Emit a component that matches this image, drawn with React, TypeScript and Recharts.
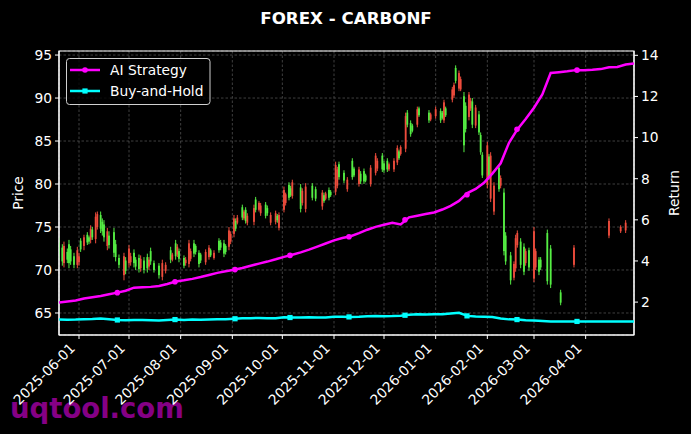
import { ComposedChart, Bar, Scatter, XAxis, YAxis, CartesianGrid, ReferenceArea } from 'recharts';

// x values are calendar days counted from 2025-05-20
const tickDays = [12, 42, 73, 104, 134, 165, 195, 226, 257, 285, 316];
const tickLabels = [
  '2025-06-01', '2025-07-01', '2025-08-01', '2025-09-01', '2025-10-01', '2025-11-01',
  '2025-12-01', '2026-01-01', '2026-02-01', '2026-03-01', '2026-04-01',
];
const priceTicks = [65, 70, 75, 80, 85, 90, 95];
const returnTicks = [2, 4, 6, 8, 10, 12, 14];

// [day, open, high, low, close]
const candles = [
  [0, 71.8, 73.8, 71.2, 73.2], [2, 71.0, 73.0, 70.5, 72.6], [3, 72.8, 73.3, 70.3, 70.8], [5, 71.2, 72.5, 70.8, 72.1],
  [6, 70.8, 73.5, 70.2, 73.0], [7, 71.0, 72.8, 70.6, 72.4], [9, 70.6, 72.0, 70.2, 71.6], [11, 72.3, 72.7, 70.2, 70.6],
  [12, 71.6, 72.0, 70.5, 70.9], [13, 72.4, 73.7, 72.1, 73.4], [15, 73.8, 74.1, 72.3, 72.8], [17, 73.2, 74.4, 72.9, 74.1],
  [18, 73.3, 74.0, 73.0, 73.8], [19, 74.8, 75.2, 73.1, 73.5], [20, 73.8, 75.0, 73.5, 74.7], [22, 76.2, 76.7, 73.1, 73.6],
  [23, 76.5, 76.8, 74.7, 75.0], [25, 74.8, 76.8, 74.3, 76.4], [26, 74.5, 76.0, 74.0, 75.6], [27, 73.8, 75.8, 73.3, 75.3],
  [29, 74.5, 74.9, 72.3, 72.8], [30, 72.9, 74.5, 72.5, 74.0], [33, 72.0, 74.9, 71.5, 74.4], [34, 71.5, 73.5, 71.0, 73.0],
  [36, 70.6, 71.8, 70.2, 71.4], [39, 71.6, 72.0, 68.8, 69.4], [40, 69.9, 71.5, 69.5, 71.1], [42, 72.5, 72.9, 70.3, 70.8],
  [43, 71.6, 72.0, 70.5, 70.9], [45, 70.8, 72.4, 70.3, 72.0], [46, 70.4, 71.5, 70.0, 71.2], [48, 70.1, 71.8, 69.7, 71.4],
  [49, 71.3, 71.7, 69.8, 70.2], [51, 70.0, 71.5, 69.6, 71.1], [53, 70.2, 71.9, 69.7, 71.5], [54, 71.2, 71.5, 70.0, 70.4],
  [55, 71.0, 72.6, 70.6, 72.2], [57, 70.0, 71.1, 69.7, 70.8], [60, 69.4, 70.8, 69.0, 70.5], [62, 70.8, 71.2, 68.8, 69.2],
  [64, 70.6, 70.9, 69.6, 69.9], [67, 71.2, 72.7, 70.8, 72.3], [68, 71.8, 72.0, 71.0, 71.2], [70, 71.6, 73.5, 71.2, 73.1],
  [71, 72.7, 73.0, 71.5, 71.8], [72, 71.3, 72.5, 70.9, 72.2], [75, 70.5, 71.7, 70.2, 71.4], [76, 71.2, 71.5, 70.5, 70.8],
  [78, 73.1, 73.5, 70.3, 70.7], [79, 72.2, 72.5, 71.0, 71.3], [81, 71.9, 73.5, 71.5, 73.1], [82, 72.1, 73.0, 71.8, 72.8],
  [84, 70.7, 72.3, 70.3, 72.0], [85, 71.1, 72.0, 70.8, 71.8], [88, 72.1, 72.4, 70.6, 70.9], [90, 72.6, 72.9, 71.2, 71.5],
  [91, 71.7, 72.5, 71.5, 72.3], [93, 72.0, 72.3, 71.2, 71.4], [96, 72.3, 73.7, 72.0, 73.4], [97, 72.6, 73.5, 72.3, 73.2],
  [99, 71.9, 73.5, 71.5, 73.1], [100, 72.1, 73.0, 71.8, 72.8], [102, 74.6, 75.0, 72.3, 72.7], [103, 74.2, 74.5, 73.0, 73.3],
  [105, 76.0, 76.4, 73.8, 74.2], [106, 74.8, 76.0, 74.5, 75.7], [107, 76.1, 76.4, 75.3, 75.5], [110, 76.1, 77.6, 75.8, 77.3],
  [111, 76.8, 77.0, 75.8, 76.0], [112, 75.7, 77.3, 75.4, 77.0], [113, 76.3, 76.6, 75.2, 75.5], [117, 77.2, 77.6, 75.2, 75.6],
  [118, 77.0, 78.5, 76.7, 78.2], [120, 77.8, 78.0, 76.8, 77.0], [121, 77.5, 77.8, 76.3, 76.6], [124, 76.3, 77.9, 76.0, 77.6],
  [125, 76.6, 77.5, 76.3, 77.2], [127, 76.4, 76.7, 75.2, 75.5], [130, 76.6, 76.9, 75.3, 75.6], [131, 75.8, 76.5, 75.5, 76.3],
  [132, 76.4, 76.7, 74.6, 74.9], [135, 79.3, 79.7, 76.7, 77.0], [136, 78.8, 79.0, 77.5, 77.8], [138, 78.4, 80.2, 78.1, 79.9],
  [139, 78.7, 79.8, 78.5, 79.5], [140, 80.2, 80.5, 78.3, 78.6], [145, 77.1, 80.0, 76.7, 79.6], [146, 79.2, 79.5, 77.5, 77.8],
  [148, 79.7, 80.1, 76.7, 77.1], [152, 78.4, 80.1, 78.1, 79.8], [154, 78.3, 79.7, 78.0, 79.4], [158, 79.0, 79.3, 77.0, 77.4],
  [159, 78.0, 79.0, 77.8, 78.7], [160, 78.9, 79.1, 78.1, 78.3], [162, 78.4, 79.6, 78.1, 79.3], [163, 78.7, 79.3, 78.5, 79.1],
  [166, 82.2, 82.6, 78.7, 79.1], [167, 81.7, 82.0, 79.5, 79.8], [168, 80.8, 82.6, 80.5, 82.3], [171, 80.4, 81.6, 80.1, 81.3],
  [173, 80.5, 80.8, 79.1, 79.4], [176, 80.8, 83.0, 80.5, 82.7], [177, 81.0, 82.0, 80.8, 81.8], [180, 81.7, 82.0, 79.7, 80.0],
  [181, 80.3, 81.5, 80.0, 81.2], [183, 80.3, 81.8, 80.0, 81.5], [184, 80.4, 81.2, 80.2, 81.0], [187, 81.9, 82.2, 79.7, 80.0],
  [190, 83.3, 83.6, 81.0, 81.3], [191, 82.7, 83.0, 81.5, 81.8], [194, 81.7, 83.6, 81.4, 83.3], [195, 81.6, 82.7, 81.3, 82.4],
  [197, 81.7, 83.0, 81.4, 82.7], [198, 82.3, 82.5, 81.5, 81.7], [201, 82.7, 83.0, 81.4, 81.7], [203, 84.2, 84.5, 82.2, 82.5],
  [204, 83.0, 84.0, 82.8, 83.8], [205, 84.3, 84.5, 83.3, 83.5], [208, 87.9, 88.3, 83.7, 84.1], [209, 86.9, 88.6, 86.6, 88.3],
  [211, 85.8, 87.4, 85.5, 87.1], [212, 86.2, 87.0, 86.0, 86.8], [215, 88.7, 89.0, 86.6, 86.9], [216, 88.0, 89.0, 87.8, 88.8],
  [222, 87.4, 88.6, 87.1, 88.3], [223, 88.1, 88.3, 87.3, 87.5], [226, 88.7, 89.0, 87.6, 87.9], [229, 87.4, 88.8, 87.1, 88.5],
  [230, 87.7, 88.5, 87.5, 88.3], [231, 89.5, 89.8, 87.1, 87.4], [232, 88.0, 89.0, 87.8, 88.8], [236, 91.0, 91.3, 89.5, 89.8],
  [237, 91.5, 91.8, 90.0, 90.3], [238, 92.0, 93.8, 91.7, 93.5], [240, 92.9, 93.2, 90.8, 91.1], [241, 92.2, 92.5, 90.8, 91.0],
  [243, 84.5, 90.7, 83.7, 90.2], [244, 86.4, 89.5, 86.0, 89.1], [246, 90.4, 90.7, 87.4, 87.8], [247, 89.7, 90.0, 88.5, 88.8],
  [248, 86.9, 90.0, 86.5, 89.6], [250, 88.9, 89.2, 86.5, 86.8], [252, 86.0, 88.5, 85.7, 88.1], [253, 83.7, 86.0, 83.4, 85.7],
  [254, 81.0, 83.7, 80.7, 83.4], [257, 84.5, 84.9, 79.5, 79.9], [258, 80.8, 83.5, 80.5, 83.2], [259, 83.3, 83.7, 77.9, 78.3],
  [261, 79.8, 80.2, 76.4, 76.8], [264, 79.4, 82.2, 79.1, 81.9], [265, 80.7, 81.0, 79.5, 79.8], [267, 72.2, 79.5, 71.7, 79.0],
  [268, 71.0, 74.4, 70.6, 74.0], [271, 68.8, 72.1, 68.3, 71.7], [273, 70.7, 71.0, 68.8, 69.1], [274, 73.7, 74.1, 69.8, 70.2],
  [275, 74.3, 74.6, 72.6, 72.9], [277, 70.6, 73.7, 70.2, 73.3], [279, 69.8, 73.1, 69.4, 72.7], [280, 72.2, 72.5, 70.5, 70.8],
  [282, 70.3, 72.6, 69.9, 72.3], [285, 74.5, 75.0, 68.6, 69.0], [286, 72.2, 72.5, 70.0, 70.3], [288, 69.8, 71.5, 69.4, 71.2],
  [289, 70.3, 71.5, 70.0, 71.2], [293, 68.7, 74.7, 68.3, 74.3], [295, 68.3, 72.9, 67.9, 72.5], [301, 66.2, 67.7, 65.9, 67.4],
  [309, 72.6, 72.9, 70.3, 70.6], [330, 75.7, 76.0, 73.7, 74.0], [337, 75.0, 75.2, 74.3, 74.5], [340, 75.5, 75.8, 74.3, 74.6],
];

// returns sampled every 5 days
const aiReturn = [
  1.98, 2.03, 2.08, 2.17, 2.24, 2.3, 2.38, 2.46, 2.55, 2.7,
  2.72, 2.74, 2.78, 2.88, 3.0, 3.06, 3.13, 3.22, 3.32, 3.42,
  3.5, 3.57, 3.66, 3.77, 3.87, 3.97, 4.08, 4.2, 4.3, 4.42,
  4.55, 4.7, 4.85, 5.0, 5.12, 5.2, 5.35, 5.52, 5.66, 5.76,
  5.86, 5.78, 6.12, 6.2, 6.28, 6.36, 6.5, 6.68, 6.92, 7.3,
  7.5, 7.8, 8.25, 8.75, 9.75, 10.4, 10.9, 11.45, 12.1, 13.14,
  13.18, 13.22, 13.28, 13.28, 13.3, 13.33, 13.42, 13.43, 13.55, 13.6,
];
const bhReturn = [
  1.15, 1.14, 1.15, 1.17, 1.18, 1.2, 1.17, 1.13, 1.12, 1.13,
  1.13, 1.12, 1.11, 1.13, 1.15, 1.13, 1.15, 1.14, 1.15, 1.16,
  1.16, 1.19, 1.21, 1.22, 1.23, 1.22, 1.21, 1.26, 1.25, 1.25,
  1.26, 1.25, 1.25, 1.29, 1.29, 1.28, 1.29, 1.31, 1.32, 1.31,
  1.32, 1.34, 1.39, 1.41, 1.4, 1.41, 1.41, 1.45, 1.48, 1.33,
  1.3, 1.29, 1.27, 1.2, 1.16, 1.15, 1.12, 1.1, 1.08, 1.06,
  1.06, 1.06, 1.06, 1.06, 1.06, 1.06, 1.06, 1.06, 1.06, 1.06,
];

// marker points (every 25 trading days)
const markerDays = [35, 69.6, 105.6, 138.6, 174, 207.6, 244.8, 274.8, 310.8];
const aiMarkers = [2.46, 2.99, 3.58, 4.27, 5.18, 6.0, 7.22, 10.4, 13.28];
const bhMarkers = [1.13, 1.15, 1.19, 1.25, 1.28, 1.36, 1.33, 1.15, 1.06];

const UP = '#55ee44';
const DOWN = '#ee4c3c';
const AI = '#ff00ff';
const BH = '#00ffff';
const FONT = 'DejaVu Sans';
const FS = 13.8;

const candleData = candles.map(([day, open, high, low, close]) => ({ day, open, high, low, close }));
const aiData = aiReturn.map((v, i) => ({ day: i * 5, v }));
const bhData = bhReturn.map((v, i) => ({ day: i * 5, v }));
const aiMarkData = markerDays.map((day, i) => ({ day, v: aiMarkers[i] }));
const bhMarkData = markerDays.map((day, i) => ({ day, v: bhMarkers[i] }));

const Candle = (props: any) => {
  const { x, y, width, height, payload } = props;
  if (!payload || x == null || y == null) return null;
  const { open, high, low, close } = payload;
  const cx = x + width / 2;
  const top = Math.min(y, y + height);
  const bottom = Math.max(y, y + height);
  const k = high > low ? (bottom - top) / (high - low) : 0;
  const yo = top + (high - open) * k;
  const yc = top + (high - close) * k;
  const color = close >= open ? UP : DOWN;
  return (
    <g>
      <line x1={cx} x2={cx} y1={top} y2={bottom} stroke={color} strokeWidth={1} />
      <rect x={cx - 0.9} y={Math.min(yo, yc)} width={1.8} height={Math.max(Math.abs(yc - yo), 1)} fill={color} />
    </g>
  );
};

const noDot = () => <g />;
const circleDot = (props: any) => <circle cx={props.cx} cy={props.cy} r={2.8} fill={AI} />;
const squareDot = (props: any) => <rect x={props.cx - 2.6} y={props.cy - 2.6} width={5.2} height={5.2} fill={BH} />;

const DateTick = (props: any) => {
  const { x, y, payload } = props;
  const label = tickLabels[tickDays.indexOf(payload.value)];
  const ax = x - 3;
  const ay = y + 8;
  return (
    <text x={ax} y={ay} textAnchor="end" transform={`rotate(-45 ${ax} ${ay})`} fill="#fff" fontSize={FS} fontFamily={FONT}>
      {label}
    </text>
  );
};

export default function App() {
  const tickStyle = { fill: '#fff', fontSize: FS, fontFamily: FONT };
  return (
    <div style={{ position: 'absolute', left: 0, top: 0, width: 691, height: 434, background: '#000', overflow: 'hidden' }}>
      {/* watermark behind chart */}
      <svg width={691} height={434} style={{ position: 'absolute', left: 0, top: 0 }}>
        <text x={10} y={418} fill="#850085" fontSize={27.5} fontWeight="bold" fontFamily={FONT}>uqtool.com</text>
      </svg>

      <div style={{ position: 'absolute', left: 0, top: 0 }}>
        <ComposedChart width={691} height={434} data={candleData} margin={{ top: 51, right: 0, bottom: 0, left: 0 }}>
          <CartesianGrid yAxisId="left" stroke="#5a5a5a" strokeWidth={0.7} strokeDasharray="2.5 2" />
          <XAxis dataKey="day" type="number" domain={[0, 345]} allowDataOverflow ticks={tickDays} interval={0}
            height={99} tick={<DateTick />} tickSize={4} stroke="#fff" tickLine={{ stroke: '#fff' }} />
          <YAxis yAxisId="left" type="number" domain={[62.44, 95.47]} allowDataOverflow ticks={priceTicks}
            width={59} tick={tickStyle} tickSize={4} tickMargin={3} stroke="#fff" />
          <YAxis yAxisId="right" orientation="right" type="number" domain={[0.4, 14.21]} allowDataOverflow ticks={returnTicks}
            width={57} tick={tickStyle} tickSize={4} tickMargin={3} stroke="#fff" />
          <Bar yAxisId="left" dataKey={(d: any) => [d.low, d.high]} barSize={2} shape={<Candle />} isAnimationActive={false} />
          <Scatter yAxisId="right" data={aiData} dataKey="v" line={{ stroke: AI, strokeWidth: 2.5 }} lineJointType="linear"
            shape={noDot} isAnimationActive={false} />
          <Scatter yAxisId="right" data={aiMarkData} dataKey="v" shape={circleDot} isAnimationActive={false} />
          <Scatter yAxisId="right" data={bhData} dataKey="v" line={{ stroke: BH, strokeWidth: 2.5 }} lineJointType="linear"
            shape={noDot} isAnimationActive={false} />
          <Scatter yAxisId="right" data={bhMarkData} dataKey="v" shape={squareDot} isAnimationActive={false} />
          <ReferenceArea yAxisId="left" x1={0} x2={345} y1={62.44} y2={95.47} fill="none" fillOpacity={0} stroke="#fff" strokeWidth={1.2} />
        </ComposedChart>
      </div>

      {/* title, axis labels, legend */}
      <svg width={691} height={434} style={{ position: 'absolute', left: 0, top: 0, pointerEvents: 'none' }}>
        <text x={346} y={23.5} textAnchor="middle" fill="#fff" fontSize={16.7} fontWeight="bold" fontFamily={FONT}>FOREX - CARBONF</text>
        <text x={18} y={193} textAnchor="middle" dominantBaseline="central" transform="rotate(-90 18 193)" fill="#fff" fontSize={FS} fontFamily={FONT}>Price</text>
        <text x={674} y={193} textAnchor="middle" dominantBaseline="central" transform="rotate(-90 674 193)" fill="#fff" fontSize={FS} fontFamily={FONT}>Return</text>
        <rect x={66.5} y={58.5} width={143.5} height={46} rx={3} fill="rgba(0,0,0,0.8)" stroke="#d0d0d0" strokeWidth={1} />
        <line x1={70} x2={100} y1={70} y2={70} stroke={AI} strokeWidth={2.5} />
        <circle cx={85} cy={70} r={2.8} fill={AI} />
        <text x={110} y={70} dominantBaseline="central" fill="#fff" fontSize={FS} fontFamily={FONT}>AI Strategy</text>
        <line x1={70} x2={100} y1={91} y2={91} stroke={BH} strokeWidth={2.5} />
        <rect x={82.4} y={88.4} width={5.2} height={5.2} fill={BH} />
        <text x={110} y={91} dominantBaseline="central" fill="#fff" fontSize={FS} fontFamily={FONT}>Buy-and-Hold</text>
      </svg>
    </div>
  );
}
